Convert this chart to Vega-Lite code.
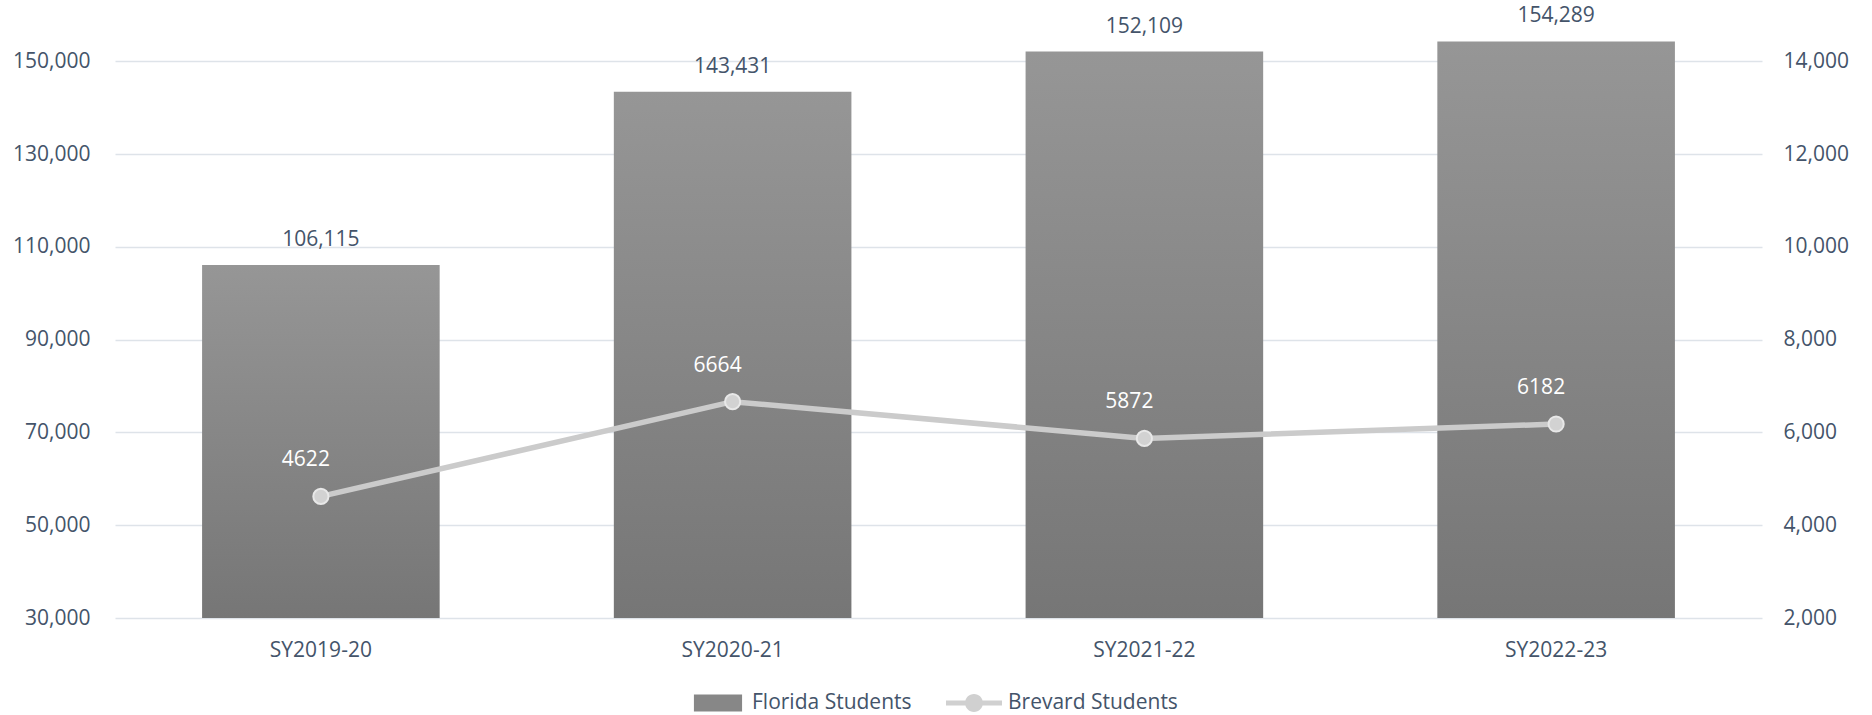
{
  "$schema": "https://vega.github.io/schema/vega-lite/v6.json",
  "autosize": {"type": "none"},
  "width": 1647,
  "height": 603,
  "padding": {"left": 115, "top": 15, "right": 110, "bottom": 97},
  "background": "white",
  "config": {
    "view": {"stroke": null},
    "font": "Open Sans",
    "axis": {
      "labelFont": "Open Sans",
      "labelFontSize": 21,
      "labelColor": "#44546A",
      "domain": false,
      "ticks": false,
      "title": null,
      "gridColor": "#DEE3E9",
      "gridWidth": 1.5
    },
    "legend": {
      "labelFont": "Open Sans",
      "labelFontSize": 21,
      "labelColor": "#44546A",
      "labelLimit": 0
    }
  },
  "data": {
    "values": [
      {"year": "SY2019-20", "florida": 106115, "brevard": 4622},
      {"year": "SY2020-21", "florida": 143431, "brevard": 6664},
      {"year": "SY2021-22", "florida": 152109, "brevard": 5872},
      {"year": "SY2022-23", "florida": 154289, "brevard": 6182}
    ]
  },
  "encoding": {
    "x": {
      "field": "year",
      "type": "nominal",
      "sort": null,
      "scale": {"paddingInner": 0.423, "paddingOuter": 0.2115},
      "axis": {"labelAngle": 0, "labelPadding": 21, "grid": false}
    }
  },
  "layer": [
    {
      "encoding": {
        "y": {
          "field": "florida",
          "type": "quantitative",
          "scale": {"domain": [30000, 160000], "zero": false, "nice": false},
          "axis": {
            "values": [30000, 50000, 70000, 90000, 110000, 130000, 150000],
            "format": ",d",
            "labelPadding": 25,
            "grid": true
          }
        }
      },
      "layer": [
        {
          "mark": {
            "type": "bar",
            "color": {
              "gradient": "linear",
              "x1": 0, "y1": 0, "x2": 0, "y2": 1,
              "stops": [
                {"offset": 0, "color": "#969696"},
                {"offset": 1, "color": "#767676"}
              ]
            }
          },
          "encoding": {
            "y2": {"datum": 30000}
          }
        },
        {
          "mark": {"type": "text", "dy": -25, "baseline": "middle", "fontSize": 21, "color": "#44546A"},
          "encoding": {
            "text": {"field": "florida", "type": "quantitative", "format": ",d"}
          }
        }
      ]
    },
    {
      "encoding": {
        "y": {
          "field": "brevard",
          "type": "quantitative",
          "scale": {"domain": [2000, 15000], "zero": false, "nice": false},
          "axis": {
            "orient": "right",
            "values": [2000, 4000, 6000, 8000, 10000, 12000, 14000],
            "format": ",d",
            "labelPadding": 21,
            "grid": false
          }
        }
      },
      "layer": [
        {
          "mark": {"type": "line", "strokeWidth": 5.5},
          "encoding": {
            "color": {
              "datum": "Brevard Students",
              "type": "nominal",
              "scale": {
                "domain": ["Florida Students", "Brevard Students"],
                "range": ["#878787", "#CBCBCB"]
              },
              "legend": {
                "orient": "none",
                "legendX": 575,
                "legendY": 660,
                "direction": "horizontal",
                "title": null,
                "symbolSize": 3136,
                "labelOffset": 6,
                "columnPadding": 34,
                "padding": 0,
                "symbolStrokeWidth": 0,
                "encode": {
                  "symbols": {
                    "update": {
                      "shape": {"signal": "datum.index == 0 ? 'M-0.86,-0.3H0.86V0.3H-0.86Z' : 'M-1,-0.09H-0.3V0.09H-1Z M0.3,-0.09H1V0.09H0.3Z M0.32,0A0.32,0.32 0 1,1 -0.32,0A0.32,0.32 0 1,1 0.32,0Z'"},
                      "fill": {"signal": "datum.index == 0 ? '#878787' : '#D0D0D0'"},
                      "stroke": {"value": "transparent"},
                      "strokeWidth": {"value": 0},
                      "opacity": {"value": 1},
                      "fillOpacity": {"value": 1}
                    }
                  }
                }
              }
            }
          }
        },
        {
          "mark": {"type": "point", "shape": "circle", "filled": true, "size": 230, "fill": "#D2D2D2", "stroke": "#E8E8E8", "strokeWidth": 2, "opacity": 1}
        },
        {
          "mark": {"type": "text", "dx": -15, "dy": -36, "baseline": "middle", "fontSize": 21, "color": "white"},
          "encoding": {
            "text": {"field": "brevard", "type": "quantitative", "format": "d"}
          }
        }
      ]
    }
  ],
  "resolve": {"scale": {"y": "independent"}}
}
